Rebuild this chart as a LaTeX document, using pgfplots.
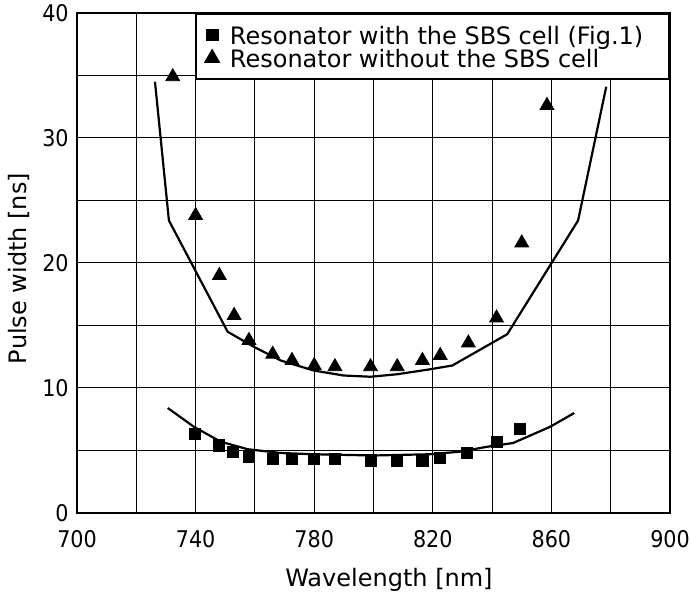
\documentclass[border=0pt]{standalone}
\usepackage{fontspec}
\setmainfont{DejaVu Sans}
\newfontfamily\tickfont{DejaVu Sans Condensed}
\usepackage{pgfplots}
\pgfplotsset{compat=1.18}

\begin{document}
\begin{tikzpicture}
  \useasboundingbox (-38.5pt,-40pt) rectangle (307pt,256.5pt);
  \begin{axis}[
      scale only axis, width=296.5pt, height=250pt,
      at={(0,0)}, anchor=south west,
      xmin=700, xmax=900, ymin=0, ymax=40,
      xtick={700,740,...,900}, minor xtick={720,760,...,880},
      ytick={0,10,...,40}, minor ytick={5,15,25,35},
      grid=both,
      major grid style={black, line width=0.5pt},
      minor grid style={black, line width=0.5pt},
      major tick length=0pt, minor tick length=0pt,
      axis line style={line width=0.8pt},
      /pgf/number format/assume math mode=true,
      tick label style={font=\tickfont\fontsize{11.5}{13}\selectfont},
      xticklabel style={anchor=north, inner sep=0pt, yshift=-8.5pt},
      yticklabel style={anchor=east, inner sep=0pt, xshift=-4pt},
      xlabel={Wavelength [nm]}, ylabel={Pulse width [ns]},
      label style={font=\fontsize{12}{14}\selectfont},
      xlabel style={at={(axis description cs:0.526,-0.148)}, anchor=base},
      ylabel style={at={(axis description cs:-0.086,0.489)}, anchor=base},
      legend image code/.code={\path (0pt,0pt) (15pt,0pt);
        \draw[mark repeat=2,mark phase=2,#1]
        plot coordinates {(0pt,0pt) (7.5pt,0pt) (15pt,0pt)};},
      legend style={at={(rel axis cs:1,1)}, anchor=north east,
        draw=black, line width=0.8pt, fill=white,
        inner xsep=0pt, inner ysep=5pt, row sep=0.5pt,
        nodes={inner sep=1pt, text depth=0pt},
        cells={anchor=west},
        font=\fontsize{12}{12}\selectfont},
    ]
    % with the SBS cell
    \addplot[only marks, mark=square*, mark size=2.8pt, black]
      coordinates {(739.7,6.3) (747.8,5.4) (752.5,4.9) (758,4.5) (766,4.3)
        (772.5,4.3) (780,4.3) (787,4.3) (799,4.2) (808,4.2) (816.5,4.2)
        (822.5,4.4) (831.5,4.8) (841.5,5.7) (849.5,6.7)};
    \addlegendentry{Resonator with the SBS cell (Fig.1)\hspace*{12pt}}
    % without the SBS cell
    \addplot[only marks, mark=triangle*, mark size=4pt, black]
      coordinates {(732.3,34.9) (740,23.8) (748,19.0) (753,15.8) (758,13.8)
        (766,12.7) (772.5,12.2) (780,11.8) (787,11.7) (799,11.7) (808,11.7)
        (816.5,12.2) (822.5,12.6) (832,13.6) (841.5,15.6) (850,21.6)
        (858.5,32.6)};
    \addlegendentry{Resonator without the SBS cell}
    % calculated curves
    \addplot[black, line width=1.1pt, forget plot]
      coordinates {(726.3,34.5) (731,23.4) (750.8,14.5) (759.6,13.3)
        (768.7,12.2) (779.8,11.4) (789.9,11.0) (799,10.9) (808,11.1)
        (819.2,11.5) (826.6,11.8) (845.1,14.3) (869,23.4) (878.5,34.1)};
    \addplot[black, line width=1.1pt, forget plot]
      coordinates {(730.6,8.4) (739.4,6.9) (748.5,5.7) (757.6,5.1)
        (768.7,4.8) (779.8,4.7) (800,4.6) (819,4.7) (829,4.9) (838.4,5.3)
        (847.1,5.6) (859.6,6.9) (867.7,8.0)};
  \end{axis}
\end{tikzpicture}
\end{document}
